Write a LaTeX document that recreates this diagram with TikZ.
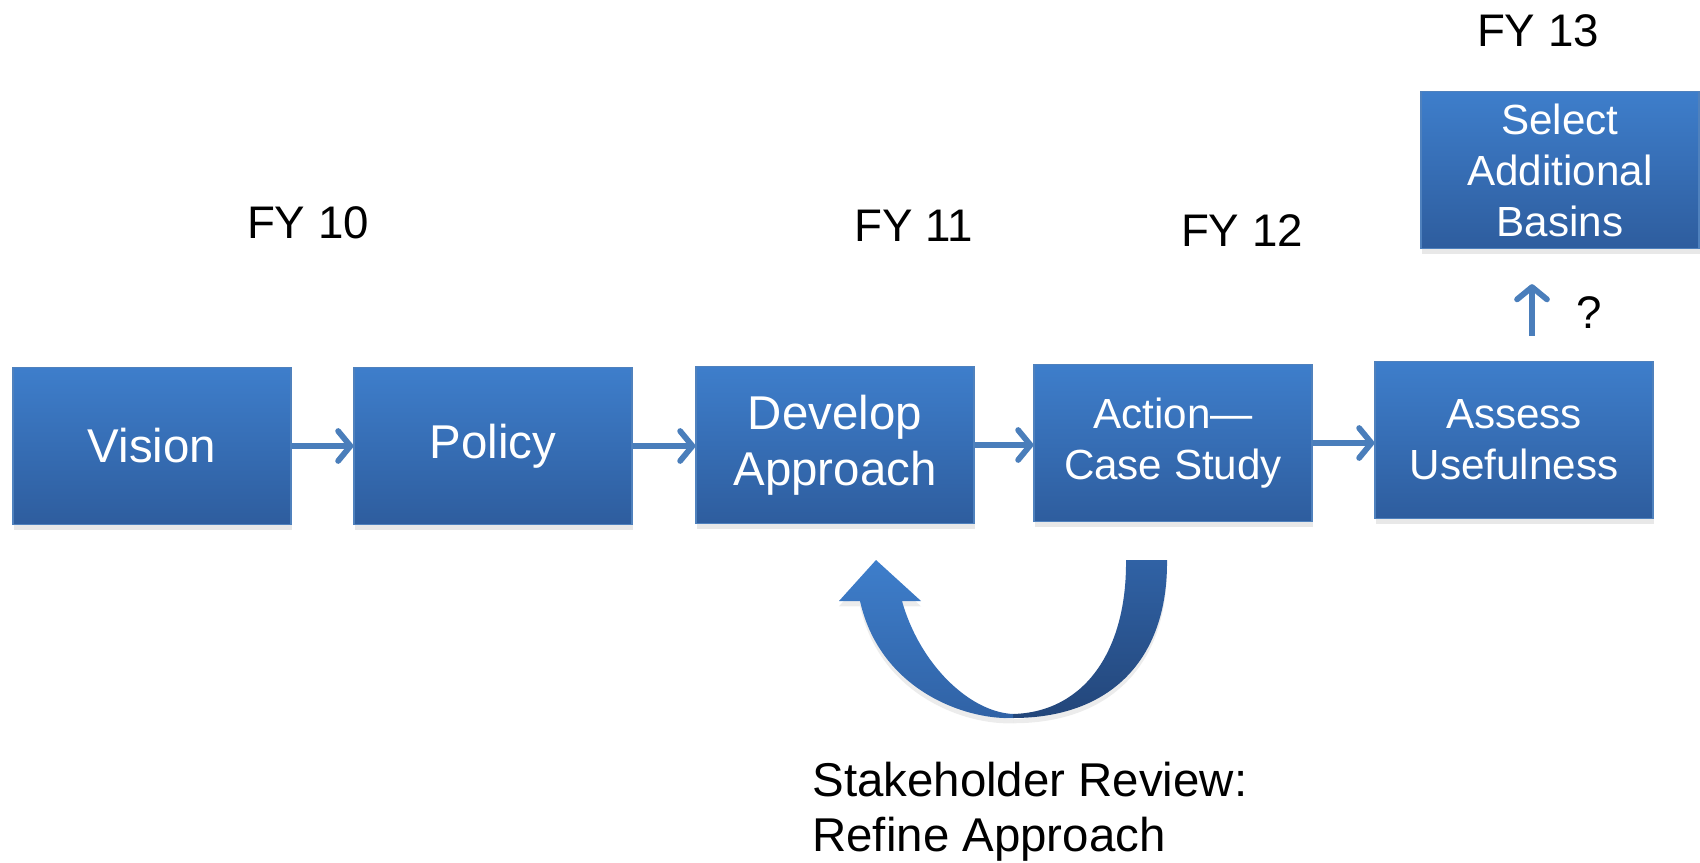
\documentclass[tikz,border=0pt]{standalone}
\usepackage{fontspec}
\setmainfont{Liberation Sans}
\usetikzlibrary{arrows.meta,shadows}
\definecolor{boxtop}{RGB}{62,126,203}
\definecolor{boxbot}{RGB}{46,93,158}
\definecolor{boxline}{RGB}{79,129,189}
\definecolor{arrowblue}{RGB}{74,126,187}
\definecolor{loopmid}{RGB}{48,98,165}
\definecolor{loopdark}{RGB}{35,70,122}

\begin{document}
\begin{tikzpicture}[x=0.02cm, y=-0.02cm,
	phase/.style={draw=boxline, line width=0.8pt, top color=boxtop, bottom color=boxbot, text=white, align=center, minimum width=5.56cm, minimum height=3.14cm, inner sep=0pt, drop shadow={opacity=0.18, shadow xshift=0.5pt, shadow yshift=-3pt}},
	big/.style={font=\fontsize{27}{32}\selectfont},
	small/.style={font=\fontsize{24}{29}\selectfont},
	year/.style={font=\fontsize{26}{31}\selectfont, anchor=base},
	flow/.style={draw=arrowblue, line width=3.3pt, -{Straight Barb[length=7pt,width=17pt,round]}}]
	\useasboundingbox (0,0) rectangle (1700,862);
	% the steps
	\node[phase,big] (vision) at (152,446) {Vision};
	\node[phase,big] (policy) at (493,446) {Policy};
	\node[phase,big] (develop) at (835,445) {Develop\\Approach};
	\node[phase,small] (action) at (1173,443) {Action—\\Case Study};
	\node[phase,small] (assess) at (1514,440) {Assess\\Usefulness};
	\node[phase,small] (select) at (1560,170) {Select\\Additional\\Basins};
	% years
	\node[year] (fy10) at (308,238) {FY 10};
	\node[year] (fy11) at (914,241) {FY 11};
	\node[year] (fy12) at (1242,246) {FY 12};
	\node[year] (fy13) at (1538,46) {FY 13};
	\node[year] (query) at (1589,328) {?};
	\draw[flow] (vision.east) -- (vision.east -| policy.west);
	\draw[flow] (policy.east) -- (policy.east -| develop.west);
	\draw[flow] (develop.east) -- (develop.east -| action.west);
	\draw[flow] (action.east) -- (action.east -| assess.west);
	\coordinate (qx) at (1532,300);
	\draw[flow, shorten <=0.5cm, shorten >=0.7cm] (assess.north -| qx) -- (select.south -| qx);
	% review loop
	\shade[top color=loopmid, bottom color=loopdark, drop shadow={opacity=0.15, shadow xshift=0pt, shadow yshift=-3pt}]
	  (1126,560) -- (1167,560) .. controls (1168,660) and (1110,718) .. (1013,718)
	  -- (1013,714) .. controls (1085,712) and (1127,650) .. (1126,560) -- cycle;
	\shade[top color=boxtop, bottom color=loopmid, drop shadow={opacity=0.15, shadow xshift=0pt, shadow yshift=-3pt}]
	  (1013,718) .. controls (965,720) and (880,690) .. (860,601) -- (839,601) -- (876,560)
	  -- (921,601) -- (902,601) .. controls (920,665) and (970,712) .. (1013,714) -- cycle;
	\node[font=\fontsize{27}{31}\selectfont, align=left, anchor=north west, inner sep=0pt] (review) at (812,762) {Stakeholder Review:\\Refine Approach};
\end{tikzpicture}
\end{document}
